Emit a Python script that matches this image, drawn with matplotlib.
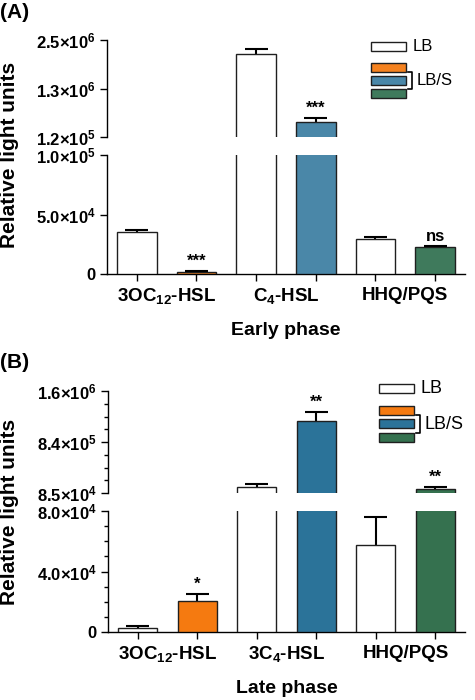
import matplotlib
matplotlib.use('Agg')
import matplotlib.pyplot as plt
from matplotlib.patches import Rectangle
from matplotlib.lines import Line2D
import numpy as np

# ─── Data ──────────────────────────────────────────────────────────────────────
GROUPS_A = [r'3OC$_{12}$-HSL', r'C$_{4}$-HSL', 'HHQ/PQS']
GROUPS_B = [r'3OC$_{12}$-HSL', r'3C$_{4}$-HSL', 'HHQ/PQS']

LB_A      = [35.5e3, 2.15e6, 29.2e3]
LB_A_ERR  = [1.8e3, 1.3e5, 2.0e3]
LBS_A     = [2.0e3, 4.95e5, 22.7e3]
LBS_A_ERR = [0.8e3, 9.0e4, 0.8e3]
SIG_A     = ['***', '***', 'ns']

LB_B      = [2.9e3, 1.68e5, 57.5e3]
LB_B_ERR  = [0.9e3, 5.0e4, 18.7e3]
LBS_B     = [20.3e3, 1.157e6, 1.45e5]
LBS_B_ERR = [4.9e3, 1.28e5, 2.9e4]
SIG_B     = ['*', '**', '**']

# ─── Styles ────────────────────────────────────────────────────────────────────
COL_A = ['#F5821F', '#4A87A8', '#3F7A5C']
COL_B = ['#F57A10', '#2B7399', '#35714F']
EDGE = '0.12'

plt.rcParams.update({
    'font.family': 'Liberation Sans',
    'font.weight': 'bold',
    'mathtext.fontset': 'custom',
    'mathtext.rm': 'Liberation Sans:bold',
    'mathtext.default': 'regular',
    'axes.linewidth': 1.0,
    'xtick.major.width': 1.0,
    'ytick.major.width': 1.0,
    'ytick.minor.width': 1.0,
})

W, H = 475, 700
fig = plt.figure(figsize=(W / 100, H / 100), dpi=100)


def box(x0, y0, x1, y1):
    # pixel box (top-left origin) -> figure fraction rect
    return [x0 / W, 1 - y1 / H, (x1 - x0) / W, (y1 - y0) / H]


def draw_bars(ax, lb, lb_err, lbs, lbs_err, cols, ylim):
    x = np.arange(3) * 2
    bw = 0.66
    cw = 0.19
    ax.bar(x, lb, bw, color='white', edgecolor=EDGE, linewidth=1.0, zorder=3)
    ax.bar(x + 1, lbs, bw, color=cols, edgecolor=EDGE, linewidth=1.0, zorder=3)
    for xs, v, e in [(x, lb, lb_err), (x + 1, lbs, lbs_err)]:
        v = np.asarray(v)
        e = np.asarray(e)
        top = v + e
        # only error bars whose cap falls inside this segment of the broken axis
        m = (top >= ylim[0]) & (top <= ylim[1])
        ax.vlines(xs[m], v[m], top[m], color='black', linewidth=1.5, zorder=2)
        ax.hlines(top[m], xs[m] - cw, xs[m] + cw, color='black', linewidth=1.5, zorder=4)
    ax.set_xlim(-0.5, 5.5)


def panel(top_box, bot_box, lb, lb_err, lbs, lbs_err, sig, cols, groups,
          top_lim, top_ticks, top_labels, bot_lim, bot_ticks, bot_labels,
          xlabel, top_minor=None, bot_minor=None):
    ax_t = fig.add_axes(top_box)
    ax_b = fig.add_axes(bot_box)
    for ax, lim in ((ax_t, top_lim), (ax_b, bot_lim)):
        draw_bars(ax, lb, lb_err, lbs, lbs_err, cols, lim)
        ax.spines['top'].set_visible(False)
        ax.spines['right'].set_visible(False)
        ax.tick_params(axis='y', length=5, labelsize=12, pad=3)
    ax_t.spines['bottom'].set_visible(False)
    ax_t.set_xticks([])
    ax_t.set_ylim(*top_lim)
    ax_t.set_yticks(top_ticks, top_labels)
    ax_b.set_ylim(*bot_lim)
    ax_b.set_yticks(bot_ticks, bot_labels)
    if top_minor is not None:
        ax_t.set_yticks(top_minor, minor=True)
        ax_t.tick_params(axis='y', which='minor', length=3)
    if bot_minor is not None:
        ax_b.set_yticks(bot_minor, minor=True)
        ax_b.tick_params(axis='y', which='minor', length=3)

    ax_b.set_xticks(np.arange(6), [''] * 6)
    ax_b.tick_params(axis='x', which='major', length=5)
    ax_b.set_xticks(np.arange(3) * 2 + 0.5, groups, minor=True)
    ax_b.tick_params(axis='x', which='minor', length=0, labelsize=13.5, pad=9)
    ax_b.set_xlabel(xlabel, fontsize=14, fontweight='bold', labelpad=11)

    # significance marks, above whichever axis shows the bar top
    lim_b = bot_lim[1]
    for i, s in enumerate(sig):
        y = lbs[i] + lbs_err[i]
        ax = ax_b if y <= lim_b else ax_t
        ax.annotate(s, (2 * i + 1, y), xytext=(0, 1.5), textcoords='offset points',
                    ha='center', va='bottom', fontsize=12, fontweight='bold',
                    zorder=5)
    return ax_t, ax_b


panel(box(107, 40, 465, 137), box(107, 155, 465, 274),
      LB_A, LB_A_ERR, LBS_A, LBS_A_ERR, SIG_A, COL_A, GROUPS_A,
      (1.2e5, 2.5e6), [1.2e5, 1.3e6, 2.5e6],
      ['1.2×10$^{5}$', '1.3×10$^{6}$', '2.5×10$^{6}$'],
      (0, 1.0e5), [0, 5e4, 1e5],
      ['0', '5.0×10$^{4}$', '1.0×10$^{5}$'],
      'Early phase')

panel(box(108, 391, 465, 493), box(108, 511, 465, 632),
      LB_B, LB_B_ERR, LBS_B, LBS_B_ERR, SIG_B, COL_B, GROUPS_B,
      (8.5e4, 1.6e6), [8.5e4, 8.4e5, 1.6e6],
      ['8.5×10$^{4}$', '8.4×10$^{5}$', '1.6×10$^{6}$'],
      (0, 8.0e4), [0, 4e4, 8e4],
      ['0', '4.0×10$^{4}$', '8.0×10$^{4}$'],
      'Late phase',
      top_minor=np.concatenate([np.linspace(8.5e4, 8.4e5, 5)[1:-1],
                                np.linspace(8.4e5, 1.6e6, 5)[1:-1]]),
      bot_minor=np.arange(1e4, 8e4, 1e4))

# ─── Panel letters and y labels ────────────────────────────────────────────────
fig.text(0.0, 1 - 3 / H, '(A)', fontsize=15, fontweight='bold', va='top', ha='left')
fig.text(0.0, 1 - 353 / H, '(B)', fontsize=15, fontweight='bold', va='top', ha='left')
fig.text(0.0, 1 - 155 / H, 'Relative light units', rotation=90, fontsize=15,
         fontweight='bold', va='center', ha='left')
fig.text(0.0, 1 - 512 / H, 'Relative light units', rotation=90, fontsize=15,
         fontweight='bold', va='center', ha='left')


# ─── Legends ───────────────────────────────────────────────────────────────────
def legend(x0, y_lb, y_sw, cols, fs):
    tf = fig.transFigure
    bw, bh = 35, 9
    fig.patches.append(Rectangle((x0 / W, 1 - (y_lb + bh) / H), bw / W, bh / H,
                                 facecolor='white', edgecolor=EDGE, lw=1.0,
                                 transform=tf, figure=fig))
    fig.text((x0 + bw + 7) / W, 1 - (y_lb + bh / 2) / H, 'LB', fontsize=fs,
             fontweight='normal', va='center', ha='left')
    for c, y in zip(cols, y_sw):
        fig.patches.append(Rectangle((x0 / W, 1 - (y + bh) / H), bw / W, bh / H,
                                     facecolor=c, edgecolor=EDGE, lw=1.0,
                                     transform=tf, figure=fig))
    bx = x0 + bw + 6
    yt, yb = y_sw[0] + bh, y_sw[2]
    fig.lines.append(Line2D([(bx - 4) / W, bx / W, bx / W, (bx - 4) / W],
                            [1 - yt / H, 1 - yt / H, 1 - yb / H, 1 - yb / H],
                            color='black', lw=1.2, transform=tf, figure=fig))
    fig.text((bx + 5) / W, 1 - ((yt + yb) / 2) / H, 'LB/S', fontsize=fs,
             fontweight='normal', va='center', ha='left')


legend(371, 42, [63, 76, 89], COL_A, 12)
legend(379, 384, [406, 419, 433], COL_B, 13)

fig.savefig('out.png', dpi=100)
